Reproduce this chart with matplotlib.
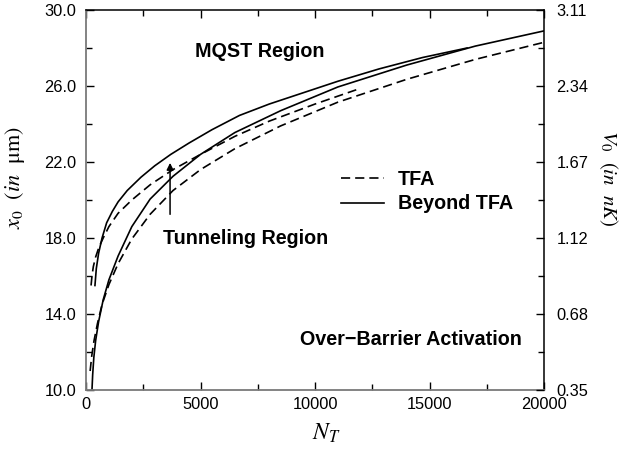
import numpy as np
import matplotlib.pyplot as plt
from matplotlib.ticker import MultipleLocator

plt.rcParams['font.family'] = ['Liberation Sans', 'DejaVu Sans']
plt.rcParams['mathtext.fontset'] = 'stix'

# values (N_T vs x_0 in micrometres)
n_tfa_lo = [180, 250, 350, 500, 700, 1000, 1400, 2000, 2800, 3800, 5000, 6500, 8500, 11000, 14000, 17000, 20000]
x0_tfa_lo = [11.0, 11.8, 12.6, 13.5, 14.5, 15.55, 16.65, 17.95, 19.25, 20.5, 21.6, 22.7, 23.9, 25.15, 26.35, 27.4, 28.3]

n_tfa_hi = [220, 260, 320, 420, 560, 750, 1000, 1400, 2000, 2800, 3800, 5000, 6500, 8000, 10000, 11800]
x0_tfa_hi = [15.5, 16.0, 16.5, 17.0, 17.5, 18.0, 18.6, 19.3, 20.0, 20.8, 21.6, 22.4, 23.35, 24.15, 25.05, 25.8]

n_bey_lo = [260, 290, 340, 420, 550, 750, 1000, 1400, 2000, 2800, 3800, 5000, 6500, 8500, 11000, 14000, 17000, 20000]
x0_bey_lo = [10.0, 10.8, 11.7, 12.6, 13.6, 14.75, 15.8, 17.05, 18.6, 20.05, 21.25, 22.4, 23.55, 24.7, 25.95, 27.1, 28.1, 28.9]

n_bey_hi = [390, 450, 550, 700, 900, 1150, 1400, 1800, 2400, 3000, 3700, 4500, 5500, 6700, 8000, 9500, 11000, 12800, 14700, 16640]
x0_bey_hi = [15.5, 16.4, 17.2, 18.0, 18.8, 19.4, 19.9, 20.5, 21.2, 21.8, 22.4, 23.0, 23.7, 24.45, 25.05, 25.65, 26.25, 26.9, 27.5, 28.0]

yticks = [10, 14, 18, 22, 26, 30]
v0_labels = ['0.35', '0.68', '1.12', '1.67', '2.34', '3.11']

fig = plt.figure(figsize=(6.41, 4.5), dpi=100)
ax = fig.add_axes([0.1342, 0.1333, 0.7145, 0.8445])

dash = (5.5, 3)
ax.plot(n_tfa_lo, x0_tfa_lo, color='black', lw=1.2, dashes=dash, label='TFA')
ax.plot(n_tfa_hi, x0_tfa_hi, color='black', lw=1.2, dashes=dash)
ax.plot(n_bey_lo, x0_bey_lo, color='black', lw=1.2, label='Beyond TFA')
ax.plot(n_bey_hi, x0_bey_hi, color='black', lw=1.2)

ax.set_xlim(0, 20000)
ax.set_ylim(10, 30)
ax.set_xticks([0, 5000, 10000, 15000, 20000])
ax.xaxis.set_minor_locator(MultipleLocator(2500))
ax.set_yticks(yticks)
ax.set_yticklabels(['%.1f' % v for v in yticks])
ax.yaxis.set_minor_locator(MultipleLocator(2))
ax.tick_params(which='both', direction='in', top=True, labelsize=11.8)
ax.tick_params(which='major', length=6, width=1)
ax.tick_params(which='minor', length=4, width=1)
ax.tick_params(axis='y', pad=7)
ax.tick_params(axis='x', pad=5)
for s in ['left', 'bottom']:
    ax.spines[s].set_color('#7a7a7a')
    ax.spines[s].set_linewidth(1.3)
for s in ['top', 'right']:
    ax.spines[s].set_linewidth(1.1)

ax2 = ax.twinx()
ax2.set_ylim(10, 30)
ax2.set_yticks(yticks)
ax2.set_yticklabels(v0_labels)
ax2.yaxis.set_minor_locator(MultipleLocator(2))
ax2.tick_params(which='both', direction='in', labelsize=11.8, pad=9)
ax2.tick_params(which='major', length=6, width=1)
ax2.tick_params(which='minor', length=4, width=1)
for s in ax2.spines.values():
    s.set_visible(False)

ax.set_xlabel(r'$N_T$', fontsize=17, va='center')
ax.xaxis.set_label_coords(0.525, -0.113)
ax.set_ylabel(r'$x_0\ \ (in\ \ \mathrm{\mu m})$', fontsize=16)
ax.yaxis.set_label_coords(-0.128, 0.558)
ax2.set_ylabel(r'$V_0\ \ (in\ \ nK)$', fontsize=15, rotation=270, va='center')
ax2.yaxis.set_label_coords(1.14, 0.558)

# arrow into the tunneling region
ax.annotate('', xy=(3670, 22.1), xytext=(3670, 19.1),
            arrowprops=dict(arrowstyle='-|>', color='black', lw=1.1, mutation_scale=10))

ax.text(7600, 27.8, 'MQST Region', fontsize=14.2, fontweight='bold', ha='center', va='center')
ax.text(3360, 18.0, 'Tunneling Region', fontsize=14.2, fontweight='bold', ha='left', va='center')
ax.text(9345, 12.65, 'Over\u2212Barrier Activation', fontsize=14.2, fontweight='bold',
        ha='left', va='center')

leg = ax.legend(loc='upper left', bbox_to_anchor=(0.535, 0.605), frameon=False,
                prop={'weight': 'bold', 'size': 14.2}, handlelength=2.2,
                handletextpad=0.7, labelspacing=0.28, borderpad=0)

fig.savefig('out.png', dpi=100)
